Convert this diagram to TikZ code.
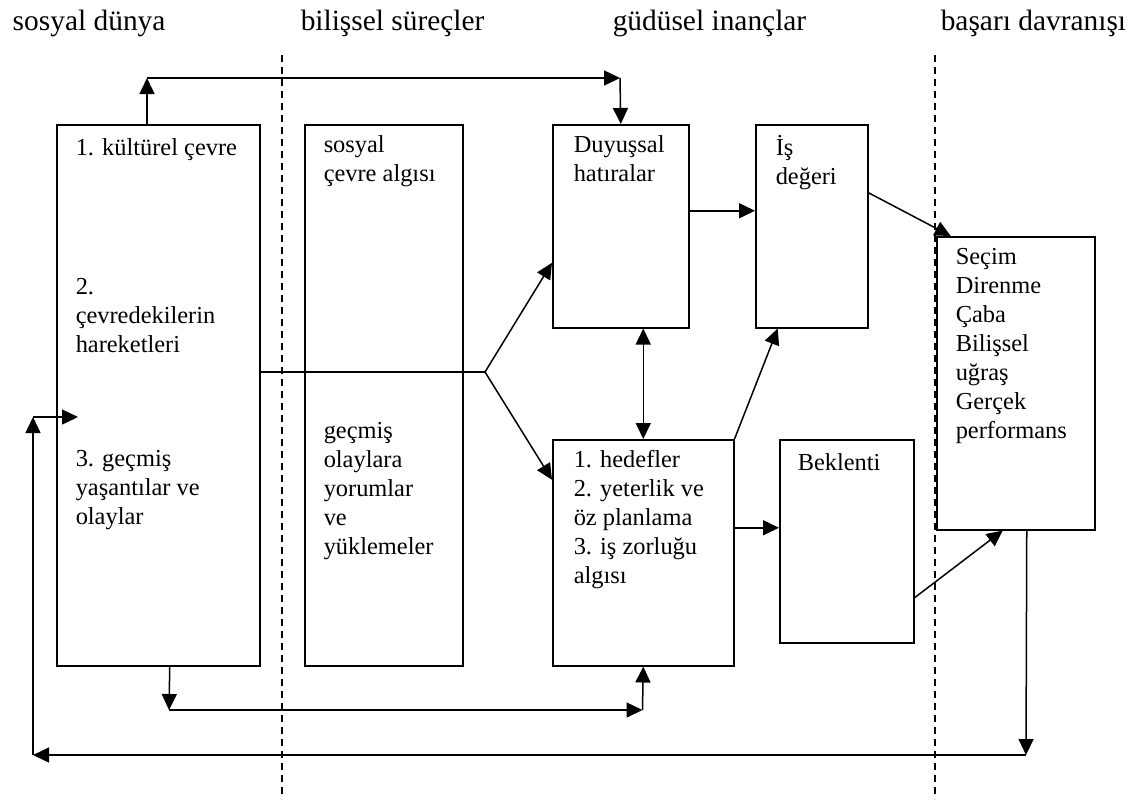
\documentclass[tikz,border=0pt]{standalone}
\usepackage{fontspec}
\setmainfont{Liberation Serif}
\usepackage{tikz}
\usetikzlibrary{arrows.meta}

\begin{document}
\begin{tikzpicture}[x=0.5pt, y=-0.5pt, line width=0.75pt,
    box/.style={draw, rectangle, anchor=north west, inner sep=0pt},
    txt/.style={anchor=north west, inner sep=0pt, align=left, font=\fontsize{12.2}{14.5}\selectfont, execute at begin node=\strut},
    head/.style={anchor=base west, inner sep=0pt, font=\fontsize{14.7}{17}\selectfont},
    arr/.style={-{Triangle[length=8pt,width=7.5pt]}},
    dbl/.style={{Triangle[length=8pt,width=7.5pt]}-{Triangle[length=8pt,width=7.5pt]}},
    divider/.style={dash pattern=on 3.5pt off 2.5pt}]
    \useasboundingbox (0,0) rectangle (1143,799);

    \node[head] (worldHead) at (12,30) {sosyal dünya};
    \node[head] (cogHead) at (300,30) {bilişsel süreçler};
    \node[head] (motivHead) at (612,30) {güdüsel inançlar};
    \node[head] (behavHead) at (940,30) {başarı davranışı};

    \coordinate (divOneTop) at (282,55);
    \coordinate (divOneBot) at (282,799);
    \coordinate (divTwoTop) at (935,55);
    \coordinate (divTwoBot) at (935,799);

\draw[divider] (divOneTop) -- (divOneBot);
\draw[divider] (divTwoTop) -- (divTwoBot);

    \node[box, minimum width=101.5pt, minimum height=270.5pt] (socialWorld) at (56,124) {};
    \node[box, minimum width=79pt, minimum height=270.5pt] (cogProc) at (304,124) {};
    \node[box, minimum width=68pt, minimum height=101.5pt] (affectMem) at (552,124) {};
    \node[box, minimum width=56pt, minimum height=101.5pt] (taskValue) at (755,124) {};
    \node[box, minimum width=90.5pt, minimum height=113pt] (goalsBox) at (552,439) {};
    \node[box, minimum width=67pt, minimum height=101.5pt] (expectBox) at (779,439) {};
    \node[box, minimum width=79pt, minimum height=146.5pt] (achieveBox) at (936,236) {};

    \node[txt] (cultureTxt) at (75,134.7) {1. kültürel çevre};
    \node[txt] (othersTxt) at (75,277.7) {2.\\çevredekilerin\\hareketleri};
    \node[txt] (pastTxt) at (75,449.7) {3. geçmiş\\yaşantılar ve\\olaylar};
    \node[txt] (perceptTxt) at (323,134.7) {sosyal\\çevre algısı};
    \node[txt] (attribTxt) at (323,421.7) {geçmiş\\olaylara\\yorumlar\\ve\\yüklemeler};
    \node[txt] (affectTxt) at (573,134.7) {Duyuşsal\\hatıralar};
    \node[txt] (valueTxt) at (775,134.7) {İş\\değeri};
    \node[txt] (goalsTxt) at (573,449.7) {1. hedefler\\2. yeterlik ve\\öz planlama\\3. iş zorluğu\\algısı};
    \node[txt] (expectTxt) at (797,449.7) {Beklenti};
    \node[txt] (achieveTxt) at (955,247.7) {Seçim\\Direnme\\Çaba\\Bilişsel\\uğraş\\Gerçek\\performans};

    \coordinate (topLeft) at (147,78);
    \coordinate (topRight) at (620,78);
    \coordinate (forkPt) at (485,372);
    \coordinate (botLeft) at (169,710);
    \coordinate (botRight) at (642.5,710);
    \coordinate (retRight) at (1026,755);
    \coordinate (retLeft) at (33,755);
    \coordinate (retUp) at (33,417);
    \coordinate (retIn) at (78,417);

\draw[arr] (socialWorld.north -| topLeft) -- (topLeft);
\draw[arr] (topLeft) -- (topRight);
\draw[arr] (topRight) -- (affectMem.north);
\draw (socialWorld.east |- forkPt) -- (forkPt);
\draw[arr] (forkPt) -- ([yshift=-18.25pt]affectMem.west);
\draw[arr] (forkPt) -- ([yshift=36.5pt]goalsBox.west);
\draw[dbl] (affectMem.south -| goalsBox.north) -- (goalsBox.north);
\draw[arr] ([yshift=7.75pt]affectMem.east) -- ([yshift=7.75pt]taskValue.west);
\draw[arr] (goalsBox.north east) -- ([xshift=-17pt]taskValue.south);
\draw[arr] ([yshift=16.75pt]taskValue.east) -- ([xshift=-32.5pt]achieveBox.north);
\draw[arr] ([yshift=12.5pt]goalsBox.east) -- ([yshift=6.75pt]expectBox.west);
\draw[arr] ([yshift=-28.25pt]expectBox.east) -- ([xshift=-6.5pt]achieveBox.south);
\draw[arr] ([xshift=5.5pt]achieveBox.south) -- (retRight);
\draw[arr] (retRight) -- (retLeft);
\draw[arr] (retLeft) -- (retUp);
\draw[arr] (retUp) -- (retIn);
\draw[arr] ([xshift=5.75pt]socialWorld.south) -- (botLeft);
\draw[arr] (botLeft) -- (botRight);
\draw[arr] (botRight) -- (goalsBox.south);

\end{tikzpicture}
\end{document}
